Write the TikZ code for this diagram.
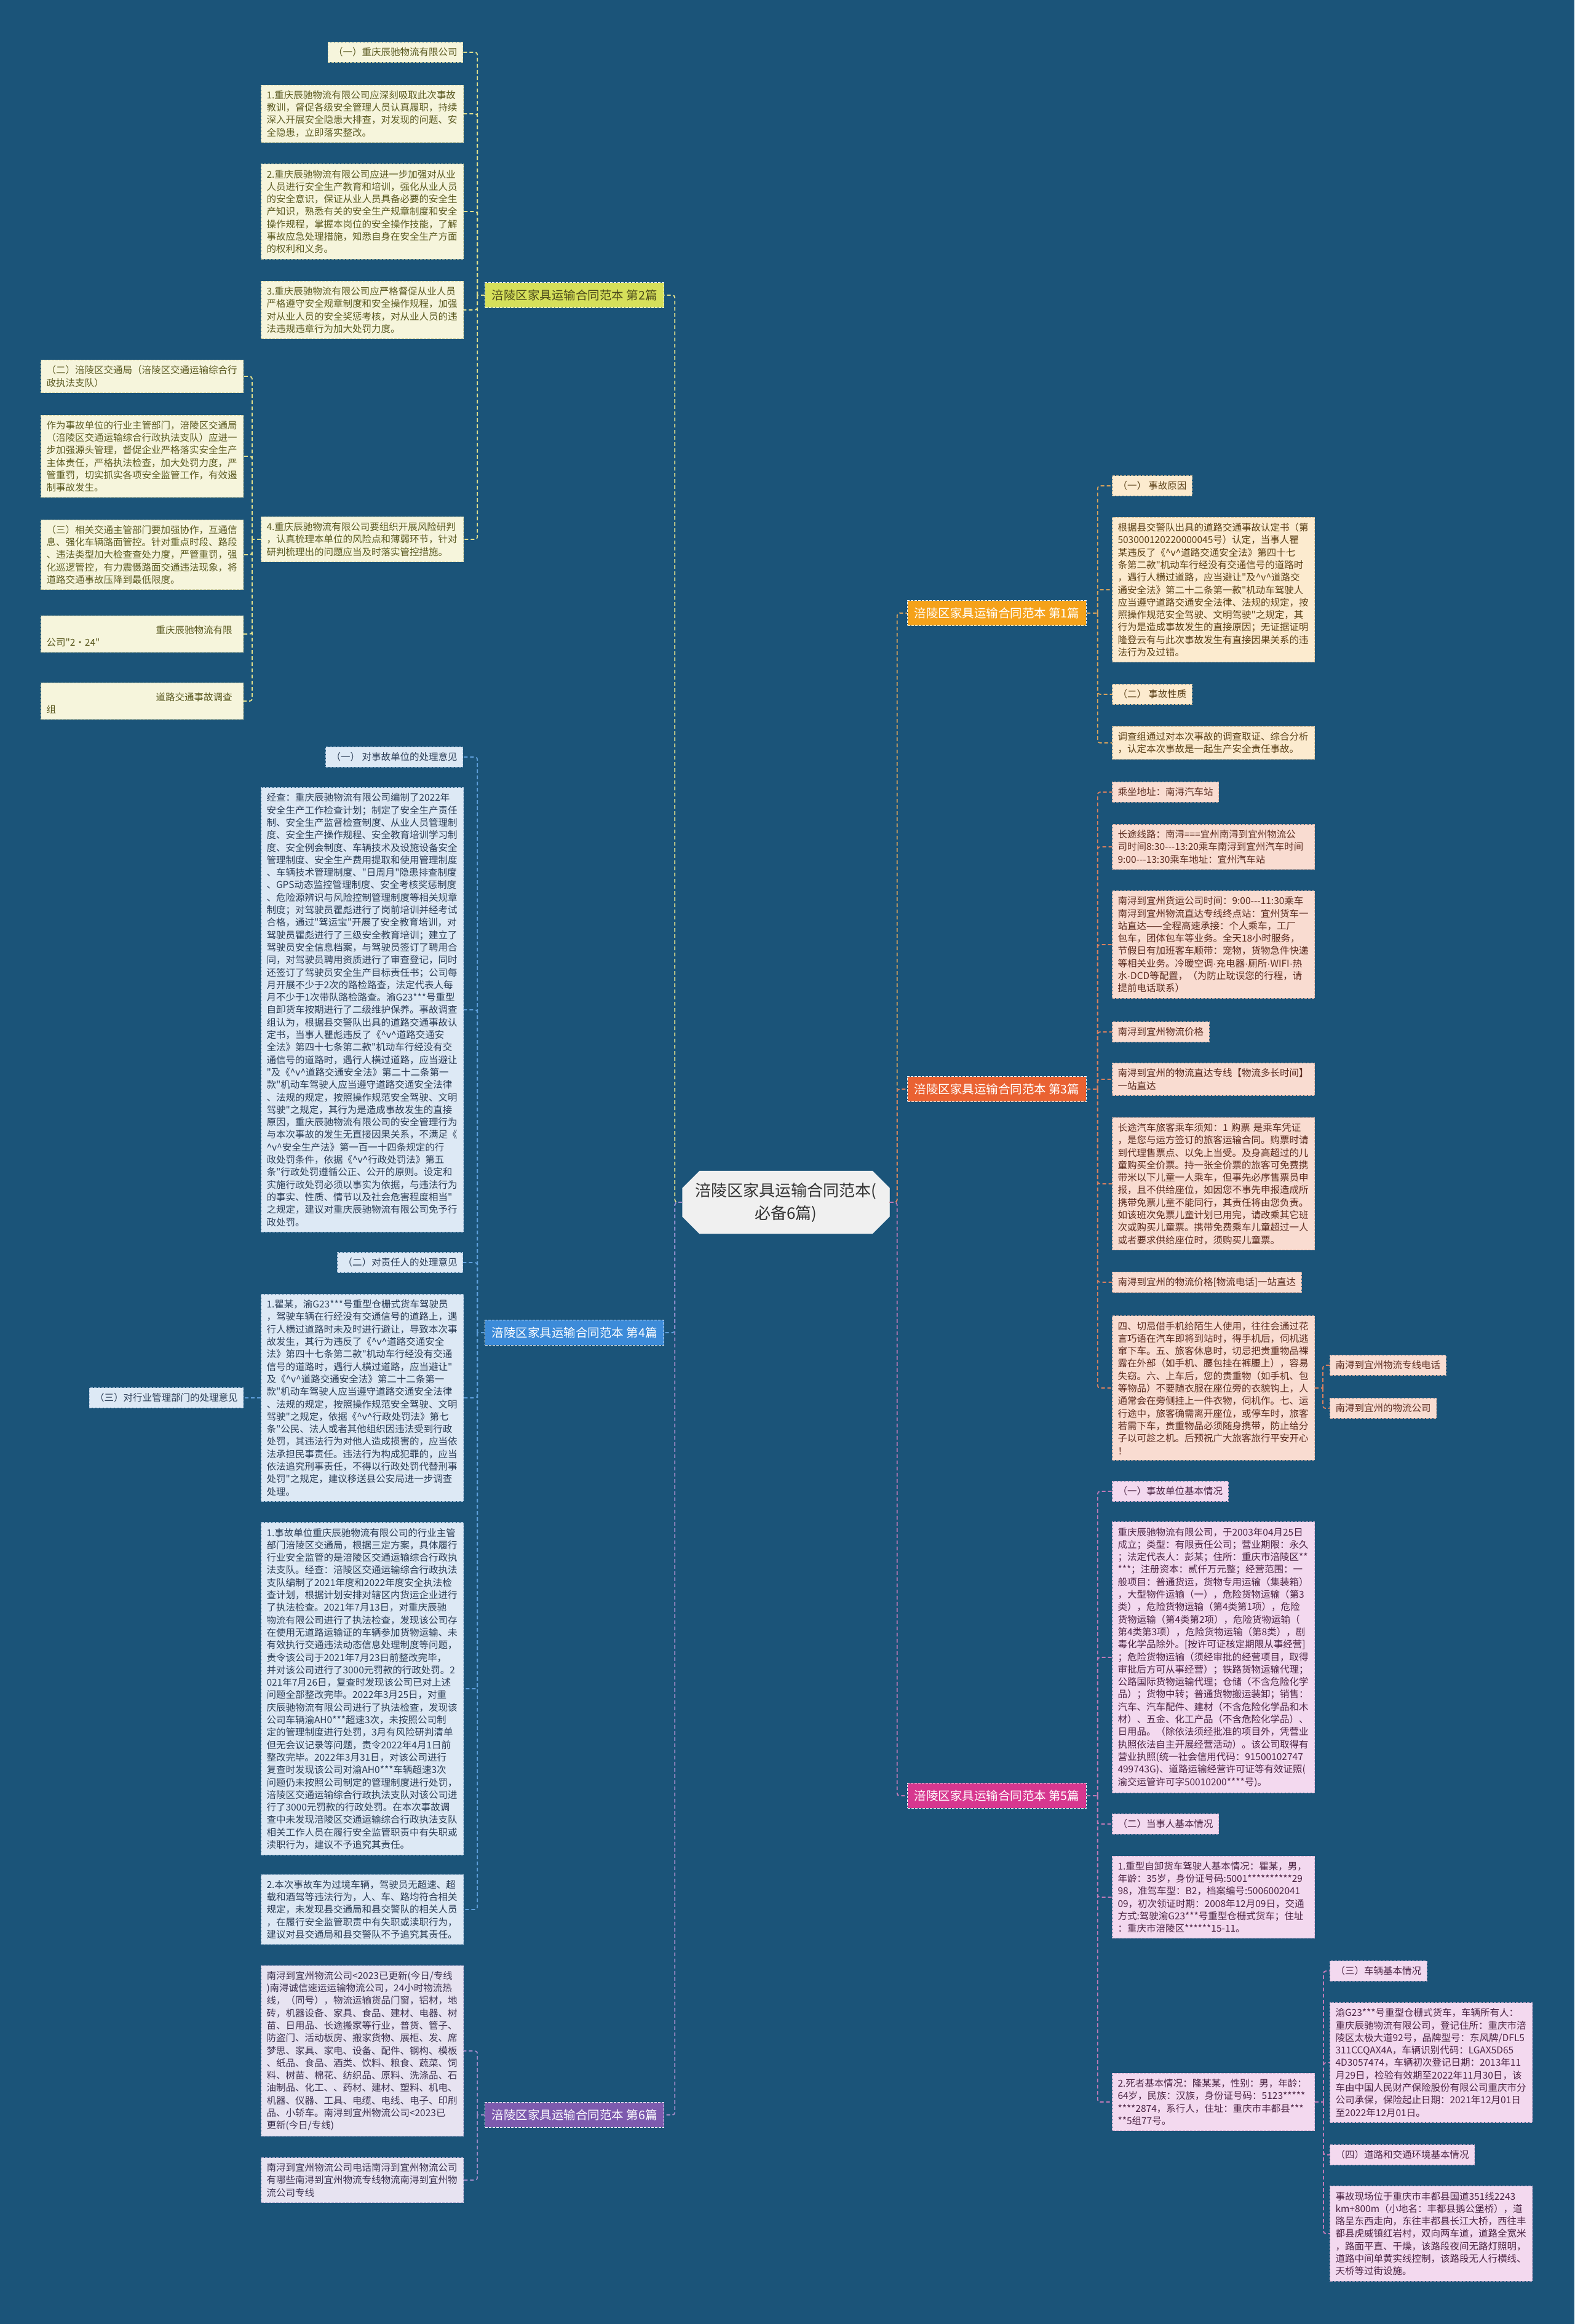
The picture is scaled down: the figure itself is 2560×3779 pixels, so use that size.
\documentclass[tikz,border=0pt]{standalone}
\usepackage{fontspec}
\newfontfamily\zh{Noto Sans CJK SC}
\newfontfamily\lat{Liberation Sans}
\usetikzlibrary{positioning, shapes.misc, calc}

\definecolor{bgblue}{HTML}{1B5479}
\definecolor{hubfill}{HTML}{F0F0F0}
\definecolor{hubtext}{HTML}{333333}
\definecolor{ylwhead}{HTML}{D6E05A}
\definecolor{ylwfill}{HTML}{F6F5DC}
\definecolor{ylwedge}{HTML}{D9D7A6}
\definecolor{ylwtext}{HTML}{5C5B22}
\definecolor{ylwline}{HTML}{E2E08C}
\definecolor{bluhead}{HTML}{3C8BD9}
\definecolor{blufill}{HTML}{DDE9F5}
\definecolor{bluedge}{HTML}{AFC7DF}
\definecolor{blutext}{HTML}{2C3E57}
\definecolor{bluline}{HTML}{5FA0DC}
\definecolor{purhead}{HTML}{7D5AAE}
\definecolor{purfill}{HTML}{E7E3F1}
\definecolor{puredge}{HTML}{BDB3D6}
\definecolor{purtext}{HTML}{3E3452}
\definecolor{purline}{HTML}{A08AC8}
\definecolor{orghead}{HTML}{F5A21A}
\definecolor{orgfill}{HTML}{FCEBCF}
\definecolor{orgedge}{HTML}{E2C69C}
\definecolor{orgtext}{HTML}{5C4118}
\definecolor{orgline}{HTML}{D9A35C}
\definecolor{redhead}{HTML}{EA6232}
\definecolor{redfill}{HTML}{F9DCD1}
\definecolor{rededge}{HTML}{E0B5A6}
\definecolor{redtext}{HTML}{5C2C20}
\definecolor{redline}{HTML}{D9805F}
\definecolor{maghead}{HTML}{D7378F}
\definecolor{magfill}{HTML}{F3D9EF}
\definecolor{magedge}{HTML}{D8B2D2}
\definecolor{magtext}{HTML}{4C2544}
\definecolor{magline}{HTML}{C07AB7}

\newcommand{\leaffont}{\zh\fontsize{15.5}{20.3}\selectfont}
\newcommand{\brfont}{\zh\fontsize{19.5}{23}\selectfont}
\newcommand{\hubfont}{\zh\fontsize{26}{37}\selectfont}
\newcommand{\hatv}{\textasciicircum v\textasciicircum}
\newcommand{\md}{{\lat ·}}

\tikzset{
  leafbox/.style={draw, dash pattern=on 4pt off 2pt, line width=1pt,
    inner xsep=9pt, inner ysep=9pt, align=left, font=\leaffont},
  textbox/.style={leafbox, text width=311pt},
  ylwleaf/.style={fill=ylwfill, draw=ylwedge, text=ylwtext},
  bluleaf/.style={fill=blufill, draw=bluedge, text=blutext},
  purleaf/.style={fill=purfill, draw=puredge, text=purtext},
  orgleaf/.style={fill=orgfill, draw=orgedge, text=orgtext},
  redleaf/.style={fill=redfill, draw=rededge, text=redtext},
  magleaf/.style={fill=magfill, draw=magedge, text=magtext},
  branch/.style={draw=white!70, dash pattern=on 4pt off 2pt, line width=1pt,
    inner xsep=11pt, inner ysep=11pt, font=\brfont},
  hub/.style={chamfered rectangle, chamfered rectangle xsep=14pt,
    chamfered rectangle ysep=14pt, fill=hubfill, draw=white,
    minimum width=337pt, minimum height=102pt, align=center,
    font=\hubfont, text=hubtext},
  link/.style={line width=1.8pt, dash pattern=on 6pt off 4pt, rounded corners=4pt},
}

\begin{document}
\begin{tikzpicture}[x=1pt, y=-1pt]
  \fill[bgblue] (0,0) rectangle (2560,3779);
  \useasboundingbox (0,0) rectangle (2560,3779);

  % centre
  \node[hub] (hub) at (1278,1955) {涪陵区家具运输合同范本(\\必备6篇)};

  % branch labels
  \node[branch, fill=ylwhead, text=ylwtext!80!black, anchor=east] (br2) at (1080,480) {涪陵区家具运输合同范本 第2篇};
  \node[branch, fill=bluhead, text=white, anchor=east] (br4) at (1080,2167) {涪陵区家具运输合同范本 第4篇};
  \node[branch, fill=purhead, text=white, anchor=east] (br6) at (1080,3439) {涪陵区家具运输合同范本 第6篇};
  \node[branch, fill=orghead, text=white, anchor=west] (br1) at (1475,997) {涪陵区家具运输合同范本 第1篇};
  \node[branch, fill=redhead, text=white, anchor=west] (br3) at (1475,1771) {涪陵区家具运输合同范本 第3篇};
  \node[branch, fill=maghead, text=white, anchor=west] (br5) at (1475,2920) {涪陵区家具运输合同范本 第5篇};

  % 第2篇
  \node[leafbox, ylwleaf, anchor=east] (y1) at (753,85) {（一）重庆辰驰物流有限公司};
  \node[textbox, ylwleaf, anchor=west] (y2) at (424,185) {1.重庆辰驰物流有限公司应深刻吸取此次事故\\教训，督促各级安全管理人员认真履职，持续\\深入开展安全隐患大排查，对发现的问题、安\\全隐患，立即落实整改。};
  \node[textbox, ylwleaf, anchor=west] (y3) at (424,344) {2.重庆辰驰物流有限公司应进一步加强对从业\\人员进行安全生产教育和培训，强化从业人员\\的安全意识，保证从业人员具备必要的安全生\\产知识，熟悉有关的安全生产规章制度和安全\\操作规程，掌握本岗位的安全操作技能，了解\\事故应急处理措施，知悉自身在安全生产方面\\的权利和义务。};
  \node[textbox, ylwleaf, anchor=west] (y4) at (424,504) {3.重庆辰驰物流有限公司应严格督促从业人员\\严格遵守安全规章制度和安全操作规程，加强\\对从业人员的安全奖惩考核，对从业人员的违\\法违规违章行为加大处罚力度。};
  \node[textbox, ylwleaf, anchor=west] (y5) at (424,877) {4.重庆辰驰物流有限公司要组织开展风险研判\\，认真梳理本单位的风险点和薄弱环节，针对\\研判梳理出的问题应当及时落实管控措施。};
  \node[textbox, ylwleaf, anchor=west] (f1) at (66,612) {（二）涪陵区交通局（涪陵区交通运输综合行\\政执法支队）};
  \node[textbox, ylwleaf, anchor=west] (f2) at (66,742) {作为事故单位的行业主管部门，涪陵区交通局\\（涪陵区交通运输综合行政执法支队）应进一\\步加强源头管理，督促企业严格落实安全生产\\主体责任，严格执法检查，加大处罚力度，严\\管重罚，切实抓实各项安全监管工作，有效遏\\制事故发生。};
  \node[textbox, ylwleaf, anchor=west] (f3) at (66,902) {（三）相关交通主管部门要加强协作，互通信\\息、强化车辆路面管控。针对重点时段、路段\\、违法类型加大检查查处力度，严管重罚，强\\化巡逻管控，有力震慑路面交通违法现象，将\\道路交通事故压降到最低限度。};
  \node[textbox, ylwleaf, anchor=west] (f4) at (66,1031) {\mbox{}\\\hspace*{178pt}重庆辰驰物流有限\\公司"2•24"};
  \node[textbox, ylwleaf, anchor=west] (f5) at (66,1140) {\mbox{}\\\hspace*{178pt}道路交通事故调查\\组};

  % 第4篇
  \node[leafbox, bluleaf, anchor=east] (b1) at (753,1231) {（一） 对事故单位的处理意见};
  \node[textbox, bluleaf, anchor=west] (b2) at (424,1642) {经查：重庆辰驰物流有限公司编制了2022年\\安全生产工作检查计划；制定了安全生产责任\\制、安全生产监督检查制度、从业人员管理制\\度、安全生产操作规程、安全教育培训学习制\\度、安全例会制度、车辆技术及设施设备安全\\管理制度、安全生产费用提取和使用管理制度\\、车辆技术管理制度、"日周月"隐患排查制度\\、GPS动态监控管理制度、安全考核奖惩制度\\、危险源辨识与风险控制管理制度等相关规章\\制度；对驾驶员瞿彪进行了岗前培训并经考试\\合格，通过"驾运宝"开展了安全教育培训，对\\驾驶员瞿彪进行了三级安全教育培训；建立了\\驾驶员安全信息档案，与驾驶员签订了聘用合\\同，对驾驶员聘用资质进行了审查登记，同时\\还签订了驾驶员安全生产目标责任书；公司每\\月开展不少于2次的路检路查，法定代表人每\\月不少于1次带队路检路查。渝G23***号重型\\自卸货车按期进行了二级维护保养。事故调查\\组认为，根据县交警队出具的道路交通事故认\\定书，当事人瞿彪违反了《\hatv 道路交通安\\全法》第四十七条第二款"机动车行经没有交\\通信号的道路时，遇行人横过道路，应当避让\\"及《\hatv 道路交通安全法》第二十二条第一\\款"机动车驾驶人应当遵守道路交通安全法律\\、法规的规定，按照操作规范安全驾驶、文明\\驾驶"之规定，其行为是造成事故发生的直接\\原因，重庆辰驰物流有限公司的安全管理行为\\与本次事故的发生无直接因果关系，不满足《\\\hatv 安全生产法》第一百一十四条规定的行\\政处罚条件，依据《\hatv 行政处罚法》第五\\条"行政处罚遵循公正、公开的原则。设定和\\实施行政处罚必须以事实为依据，与违法行为\\的事实、性质、情节以及社会危害程度相当"\\之规定，建议对重庆辰驰物流有限公司免予行\\政处罚。};
  \node[leafbox, bluleaf, anchor=east] (b3) at (753,2053) {（二）对责任人的处理意见};
  \node[textbox, bluleaf, anchor=west] (b4) at (424,2273) {1.瞿某，渝G23***号重型仓栅式货车驾驶员\\，驾驶车辆在行经没有交通信号的道路上，遇\\行人横过道路时未及时进行避让，导致本次事\\故发生，其行为违反了《\hatv 道路交通安全\\法》第四十七条第二款"机动车行经没有交通\\信号的道路时，遇行人横过道路，应当避让"\\及《\hatv 道路交通安全法》第二十二条第一\\款"机动车驾驶人应当遵守道路交通安全法律\\、法规的规定，按照操作规范安全驾驶、文明\\驾驶"之规定，依据《\hatv 行政处罚法》第七\\条"公民、法人或者其他组织因违法受到行政\\处罚，其违法行为对他人造成损害的，应当依\\法承担民事责任。违法行为构成犯罪的，应当\\依法追究刑事责任，不得以行政处罚代替刑事\\处罚"之规定，建议移送县公安局进一步调查\\处理。};
  \node[leafbox, bluleaf, anchor=east] (b5) at (396,2273) {（三）对行业管理部门的处理意见};
  \node[textbox, bluleaf, anchor=west] (b6) at (424,2746) {1.事故单位重庆辰驰物流有限公司的行业主管\\部门涪陵区交通局，根据三定方案，具体履行\\行业安全监管的是涪陵区交通运输综合行政执\\法支队。经查：涪陵区交通运输综合行政执法\\支队编制了2021年度和2022年度安全执法检\\查计划，根据计划安排对辖区内货运企业进行\\了执法检查。2021年7月13日，对重庆辰驰\\物流有限公司进行了执法检查，发现该公司存\\在使用无道路运输证的车辆参加货物运输、未\\有效执行交通违法动态信息处理制度等问题，\\责令该公司于2021年7月23日前整改完毕，\\并对该公司进行了3000元罚款的行政处罚。2\\021年7月26日，复查时发现该公司已对上述\\问题全部整改完毕。2022年3月25日，对重\\庆辰驰物流有限公司进行了执法检查，发现该\\公司车辆渝AH0***超速3次，未按照公司制\\定的管理制度进行处罚，3月有风险研判清单\\但无会议记录等问题，责令2022年4月1日前\\整改完毕。2022年3月31日，对该公司进行\\复查时发现该公司对渝AH0***车辆超速3次\\问题仍未按照公司制定的管理制度进行处罚，\\涪陵区交通运输综合行政执法支队对该公司进\\行了3000元罚款的行政处罚。在本次事故调\\查中未发现涪陵区交通运输综合行政执法支队\\相关工作人员在履行安全监管职责中有失职或\\渎职行为，建议不予追究其责任。};
  \node[textbox, bluleaf, anchor=west] (b7) at (424,3105) {2.本次事故车为过境车辆，驾驶员无超速、超\\载和酒驾等违法行为，人、车、路均符合相关\\规定，未发现县交通局和县交警队的相关人员\\，在履行安全监管职责中有失职或渎职行为，\\建议对县交通局和县交警队不予追究其责任。};

  % 第6篇
  \node[textbox, purleaf, anchor=west] (p1) at (424,3335) {南浔到宜州物流公司<2023已更新(今日/专线\\)南浔诚信速运运输物流公司，24小时物流热\\线，（同号），物流运输货品门窗，铝材，地\\砖，机器设备、家具、食品、建材、电器、树\\苗、日用品、长途搬家等行业，普货、管子、\\防盗门、活动板房、搬家货物、展柜、发、席\\梦思、家具、家电、设备、配件、钢构、模板\\、纸品、食品、酒类、饮料、粮食、蔬菜、饲\\料、树苗、棉花、纺织品、原料、洗涤品、石\\油制品、化工、、药材、建材、塑料、机电、\\机器、仪器、工具、电缆、电线、电子、印刷\\品、小轿车。南浔到宜州物流公司<2023已\\更新(今日/专线)};
  \node[textbox, purleaf, anchor=west] (p2) at (424,3545) {南浔到宜州物流公司电话南浔到宜州物流公司\\有哪些南浔到宜州物流专线物流南浔到宜州物\\流公司专线};

  % 第1篇
  \node[leafbox, orgleaf, anchor=west] (r1) at (1808,790) {（一） 事故原因};
  \node[textbox, orgleaf, anchor=west] (r2) at (1808,959) {根据县交警队出具的道路交通事故认定书（第\\503000120220000045号）认定，当事人瞿\\某违反了《\hatv 道路交通安全法》第四十七\\条第二款"机动车行经没有交通信号的道路时\\，遇行人横过道路，应当避让"及\hatv 道路交\\通安全法》第二十二条第一款"机动车驾驶人\\应当遵守道路交通安全法律、法规的规定，按\\照操作规范安全驾驶、文明驾驶"之规定，其\\行为是造成事故发生的直接原因；无证据证明\\隆登云有与此次事故发生有直接因果关系的违\\法行为及过错。};
  \node[leafbox, orgleaf, anchor=west] (r3) at (1808,1129) {（二） 事故性质};
  \node[textbox, orgleaf, anchor=west] (r4) at (1808,1208) {调查组通过对本次事故的调查取证、综合分析\\，认定本次事故是一起生产安全责任事故。};

  % 第3篇
  \node[leafbox, redleaf, anchor=west] (s1) at (1808,1288) {乘坐地址：南浔汽车站};
  \node[textbox, redleaf, anchor=west] (s2) at (1808,1377) {长途线路：南浔===宜州南浔到宜州物流公\\司时间8:30---13:20乘车南浔到宜州汽车时间\\9:00---13:30乘车地址：宜州汽车站};
  \node[textbox, redleaf, anchor=west] (s3) at (1808,1536) {南浔到宜州货运公司时间：9:00---11:30乘车\\南浔到宜州物流直达专线终点站：宜州货车一\\站直达——全程高速承接：个人乘车，工厂\\包车，团体包车等业务。全天18小时服务，\\节假日有加班客车顺带：宠物，货物急件快递\\等相关业务。冷暖空调\md 充电器\md 厕所\md WIFI\md 热\\水\md DCD等配置，（为防止耽误您的行程，请\\提前电话联系）};
  \node[leafbox, redleaf, anchor=west] (s4) at (1808,1678) {南浔到宜州物流价格};
  \node[textbox, redleaf, anchor=west] (s5) at (1808,1755) {南浔到宜州的物流直达专线【物流多长时间】\\一站直达};
  \node[textbox, redleaf, anchor=west] (s6) at (1808,1925) {长途汽车旅客乘车须知：1 购票 是乘车凭证\\，是您与运方签订的旅客运输合同。购票时请\\到代理售票点、以免上当受。及身高超过的儿\\童购买全价票。持一张全价票的旅客可免费携\\带米以下儿童一人乘车，但事先必序售票员申\\报，且不供给座位，如因您不事先申报造成所\\携带免票儿童不能同行，其责任将由您负责。\\如该班次免票儿童计划已用完，请改乘其它班\\次或购买儿童票。携带免费乘车儿童超过一人\\或者要求供给座位时，须购买儿童票。};
  \node[leafbox, redleaf, anchor=west] (s7) at (1808,2085) {南浔到宜州的物流价格[物流电话]一站直达};
  \node[textbox, redleaf, anchor=west] (s8) at (1808,2257) {四、切忌借手机给陌生人使用，往往会通过花\\言巧语在汽车即将到站时，得手机后，伺机逃\\窜下车。五、旅客休息时，切忌把贵重物品裸\\露在外部（如手机、腰包挂在裤腰上），容易\\失窃。六、上车后，您的贵重物（如手机、包\\等物品）不要随衣服在座位旁的衣貌钩上，人\\通常会在旁侧挂上一件衣物，伺机作。七、运\\行途中，旅客确需离开座位，或停车时，旅客\\若需下车，贵重物品必须随身携带，防止给分\\子以可趁之机。后预祝广大旅客旅行平安开心\\！};
  \node[leafbox, redleaf, anchor=west] (t1) at (2162,2220) {南浔到宜州物流专线电话};
  \node[leafbox, redleaf, anchor=west] (t2) at (2162,2290) {南浔到宜州的物流公司};

  % 第5篇
  \node[leafbox, magleaf, anchor=west] (m1) at (1808,2425) {（一）事故单位基本情况};
  \node[textbox, magleaf, anchor=west] (m2) at (1808,2695) {重庆辰驰物流有限公司，于2003年04月25日\\成立；类型：有限责任公司；营业期限：永久\\；法定代表人：彭某；住所：重庆市涪陵区**\\****；注册资本：贰仟万元整；经营范围：一\\般项目：普通货运，货物专用运输（集装箱）\\，大型物件运输（一），危险货物运输（第3\\类），危险货物运输（第4类第1项），危险\\货物运输（第4类第2项），危险货物运输（\\第4类第3项），危险货物运输（第8类），剧\\毒化学品除外。[按许可证核定期限从事经营]\\；危险货物运输（须经审批的经营项目，取得\\审批后方可从事经营）；铁路货物运输代理；\\公路国际货物运输代理；仓储（不含危险化学\\品）；货物中转；普通货物搬运装卸；销售：\\汽车、汽车配件、建材（不含危险化学品和木\\材）、五金、化工产品（不含危险化学品）、\\日用品。（除依法须经批准的项目外，凭营业\\执照依法自主开展经营活动）。该公司取得有\\营业执照(统一社会信用代码：91500102747\\499743G)、道路运输经营许可证等有效证照(\\渝交运管许可字50010200****号)。};
  \node[leafbox, magleaf, anchor=west] (m3) at (1808,2966) {（二）当事人基本情况};
  \node[textbox, magleaf, anchor=west] (m4) at (1808,3085) {1.重型自卸货车驾驶人基本情况：瞿某，男，\\年龄：35岁，身份证号码:5001**********29\\98，准驾车型：B2，档案编号:5006002041\\09，初次领证时期：2008年12月09日，交通\\方式:驾驶渝G23***号重型仓栅式货车；住址\\：重庆市涪陵区******15-11。};
  \node[textbox, magleaf, anchor=west] (m5) at (1808,3418) {2.死者基本情况：隆某某，性别：男，年龄：\\64岁，民族：汉族，身份证号码：5123*****\\*****2874，系行人，住址：重庆市丰都县***\\***5组77号。};
  \node[leafbox, magleaf, anchor=west] (n1) at (2162,3205) {（三）车辆基本情况};
  \node[textbox, magleaf, anchor=west] (n2) at (2162,3354) {渝G23***号重型仓栅式货车，车辆所有人：\\重庆辰驰物流有限公司，登记住所：重庆市涪\\陵区太极大道92号，品牌型号：东风牌/DFL5\\311CCQAX4A，车辆识别代码：LGAX5D65\\4D3057474，车辆初次登记日期：2013年11\\月29日，检验有效期至2022年11月30日，该\\车由中国人民财产保险股份有限公司重庆市分\\公司承保，保险起止日期：2021年12月01日\\至2022年12月01日。};
  \node[leafbox, magleaf, anchor=west] (n3) at (2162,3504) {（四）道路和交通环境基本情况};
  \node[textbox, magleaf, anchor=west] (n4) at (2162,3632) {事故现场位于重庆市丰都县国道351线2243\\km+800m（小地名：丰都县鹅公堡桥），道\\路呈东西走向，东往丰都县长江大桥，西往丰\\都县虎威镇红岩村，双向两车道，道路全宽米\\，路面平直、干燥，该路段夜间无路灯照明，\\道路中间单黄实线控制，该路段无人行横线、\\天桥等过街设施。};

  % hub to branches
  \draw[link, draw=ylwline] (hub.west) -- ++(-12,0) |- (br2.east);
  \draw[link, draw=bluline] (hub.west) -- ++(-12,0) |- (br4.east);
  \draw[link, draw=purline] (hub.west) -- ++(-12,0) |- (br6.east);
  \draw[link, draw=orgline] (hub.east) -- ++(12,0) |- (br1.west);
  \draw[link, draw=redline] (hub.east) -- ++(12,0) |- (br3.west);
  \draw[link, draw=magline] (hub.east) -- ++(12,0) |- (br5.west);

  % branches to leaves
  \draw[link, draw=ylwline] (br2.west) -- ++(-12,0) coordinate (bus2);
  \foreach \c in {y1,y2,y3,y4,y5} \draw[link, draw=ylwline] (bus2) |- (\c.east);
  \draw[link, draw=ylwline] (y5.west) -- ++(-14,0) coordinate (busy5);
  \foreach \c in {f1,f2,f3,f4,f5} \draw[link, draw=ylwline] (busy5) |- (\c.east);

  \draw[link, draw=bluline] (br4.west) -- ++(-12,0) coordinate (bus4);
  \foreach \c in {b1,b2,b3,b4,b6,b7} \draw[link, draw=bluline] (bus4) |- (\c.east);
  \draw[link, draw=bluline] (b4.west) -- (b5.east);

  \draw[link, draw=purline] (br6.west) -- ++(-12,0) coordinate (bus6);
  \foreach \c in {p1,p2} \draw[link, draw=purline] (bus6) |- (\c.east);

  \draw[link, draw=orgline] (br1.east) -- ++(18,0) coordinate (bus1);
  \foreach \c in {r1,r2,r3,r4} \draw[link, draw=orgline] (bus1) |- (\c.west);

  \draw[link, draw=redline] (br3.east) -- ++(18,0) coordinate (bus3);
  \foreach \c in {s1,s2,s3,s4,s5,s6,s7,s8} \draw[link, draw=redline] (bus3) |- (\c.west);
  \draw[link, draw=redline] (s8.east) -- ++(13,0) coordinate (buss8);
  \foreach \c in {t1,t2} \draw[link, draw=redline] (buss8) |- (\c.west);

  \draw[link, draw=magline] (br5.east) -- ++(18,0) coordinate (bus5);
  \foreach \c in {m1,m2,m3,m4,m5} \draw[link, draw=magline] (bus5) |- (\c.west);
  \draw[link, draw=magline] (m5.east) -- ++(14,0) coordinate (busm5);
  \foreach \c in {n1,n2,n3,n4} \draw[link, draw=magline] (busm5) |- (\c.west);
\end{tikzpicture}
\end{document}
